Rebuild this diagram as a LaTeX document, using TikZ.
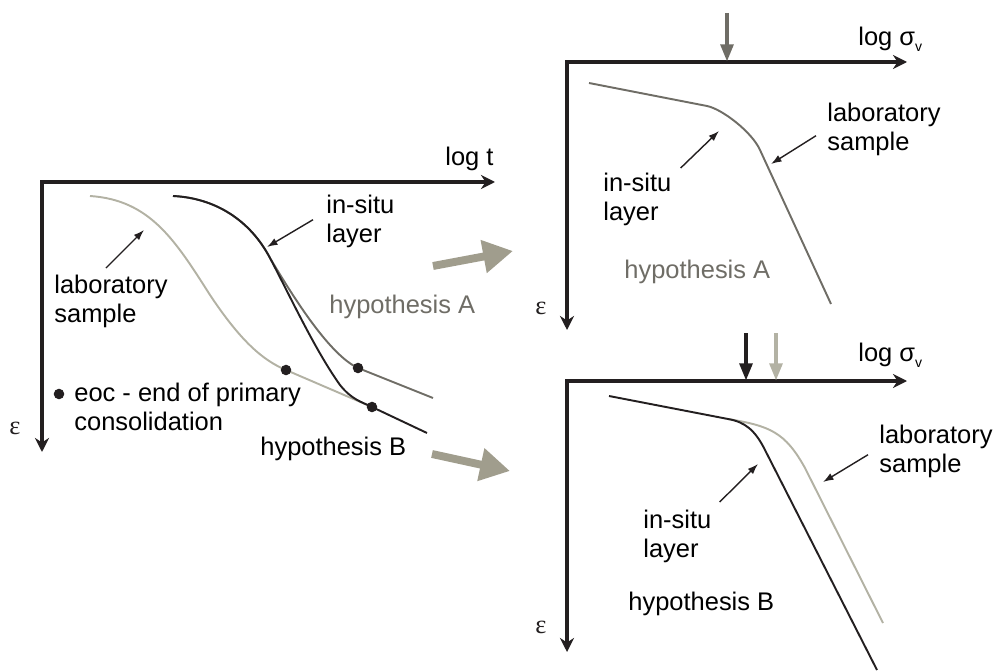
\documentclass[tikz,border=0pt]{standalone}
\usepackage{fontspec}
\setmainfont{Liberation Sans}
\newfontfamily\epsfont{Liberation Serif}
\usetikzlibrary{arrows.meta,positioning}

\definecolor{axisblack}{HTML}{231F20}
\definecolor{labgrey}{HTML}{B3B2A4}
\definecolor{hypgrey}{HTML}{6F6D66}
\definecolor{bigkhaki}{HTML}{A09D8D}

\begin{document}
\begin{tikzpicture}[
  x=0.02cm, y=-0.02cm,
  axis/.style={draw=axisblack, line width=1.9pt, {Stealth[length=8pt,width=8pt]}-{Stealth[length=8pt,width=8pt]}},
  curve/.style={line width=1.1pt},
  label/.style={anchor=north west, inner sep=0pt, align=left, font=\fontsize{14.5}{16.5}\selectfont},
  pointer/.style={draw=axisblack, line width=0.8pt, -{Latex[length=6pt,width=4.2pt]}},
  dot/.style={circle, fill=axisblack, inner sep=0pt, minimum size=6pt},
  load/.style={line width=2.8pt, -{Triangle[length=10pt,width=7pt]}},
  bigarrow/.style={draw=bigkhaki, line width=4.5pt, -{Triangle[length=17pt,width=18pt]}},
  epsl/.style={inner sep=0pt, text=axisblack, font=\epsfont\fontsize{15}{15}\selectfont}
]
\useasboundingbox (0,0) rectangle (997,672);

% Axis - consolidation curves
\coordinate (o1) at (42,182);
\coordinate (t1) at (495,182);
\coordinate (e1) at (42,452);
\draw[axis] (t1) -- (o1) -- (e1);
\node[label] (logt) at (445,147) {log t};
\node[epsl] (eps1) at (15,428) {ε};

% laboratory sample curve
\draw[curve, labgrey] (90,196) .. controls (150,200) and (175,240) .. (210,295)
  .. controls (240,340) and (262,360) .. (286,370) -- (372,407);
% in-situ curves
\draw[curve, hypgrey] (173,196) .. controls (215,198) and (250,220) .. (270,258)
  .. controls (295,300) and (330,355) .. (358,368) -- (433,398);
\draw[curve, axisblack] (173,196) .. controls (215,198) and (250,220) .. (270,258)
  .. controls (290,296) and (315,350) .. (340,385)
  .. controls (352,400) and (362,402) .. (372,407) -- (427,433);

\node[dot] (eocL) at (286,370) {};
\node[dot] (eocA) at (358,368) {};
\node[dot] (eocB) at (372,407) {};

\node[label] (isL) at (326,195) {in-situ\\layer};
\node[label] (labL) at (54,275) {laboratory\\sample};
\node[label, text=hypgrey] (hypA1) at (329,295) {hypothesis A};
\node[label] (hypB1) at (260,437) {hypothesis B};
\node[dot] (bullet) at (59,394) {};
\node[label] (eoc) at (74,383) {eoc - end of primary\\consolidation};

\coordinate (tipIsL) at (267,247);
\coordinate (tipLabL) at (144,230);
\draw[pointer] ([shift={(-13,-2)}]isL.west) -- (tipIsL);
\draw[pointer] ([shift={(-5,-7)}]labL.north) -- (tipLabL);

% transition arrows
\coordinate (toA) at (513,251);
\coordinate (toB) at (510,471);
\draw[bigarrow] (433,266) -- (toA);
\draw[bigarrow] (432,454) -- (toB);

% Axis - hypothesis A
\coordinate (o2) at (567,62);
\coordinate (s2) at (907,62);
\coordinate (e2) at (567,330);
\draw[axis] (s2) -- (o2) -- (e2);
\node[label] (logsA) at (858,27) {log σ\raisebox{-0.45ex}{\fontsize{8}{8}\selectfont v}};
\node[epsl] (eps2) at (541,308) {ε};

\coordinate (pcA) at (727,62);
\draw[load, hypgrey] (727,13) -- (pcA);

\draw[curve, hypgrey] (589,83) -- (707,106) .. controls (722,109) and (752,132) .. (760,150) -- (831,304);

\node[label] (isA) at (603,173) {in-situ\\layer};
\node[label] (labA) at (827,103) {laboratory\\sample};
\node[label, text=hypgrey] (hypA2) at (624,260) {hypothesis A};

\coordinate (tipIsA) at (719,131);
\coordinate (tipLabA) at (771,164);
\draw[pointer] ([shift={(9,-5)}]isA.north east) -- (tipIsA);
\draw[pointer] ([shift={(-11,6)}]labA.west) -- (tipLabA);

% Axis - hypothesis B
\coordinate (o3) at (567,381);
\coordinate (s3) at (907,381);
\coordinate (e3) at (567,652);
\draw[axis] (s3) -- (o3) -- (e3);
\node[label] (logsB) at (858,343) {log σ\raisebox{-0.45ex}{\fontsize{8}{8}\selectfont v}};
\node[epsl] (eps3) at (541,627) {ε};

\coordinate (pcB) at (746,381);
\coordinate (pcLab) at (776,381);
\draw[load, axisblack] (746,333) -- (pcB);
\draw[load, labgrey] (776,333) -- (pcLab);

\draw[curve, labgrey] (728,419) .. controls (770,426) and (785,432) .. (805,468) -- (883,623);
\draw[curve, axisblack] (609,396) -- (728,419) .. controls (745,422) and (755,430) .. (765,450) -- (877,670);

\node[label] (isB) at (643,510) {in-situ\\layer};
\node[label] (labB) at (879,425) {laboratory\\sample};
\node[label] (hypB2) at (628,592) {hypothesis B};

\coordinate (tipIsB) at (758,464);
\coordinate (tipLabB) at (823,482);
\draw[pointer] ([shift={(8,-8)}]isB.north east) -- (tipIsB);
\draw[pointer] ([shift={(-11,3)}]labB.west) -- (tipLabB);

\end{tikzpicture}
\end{document}
